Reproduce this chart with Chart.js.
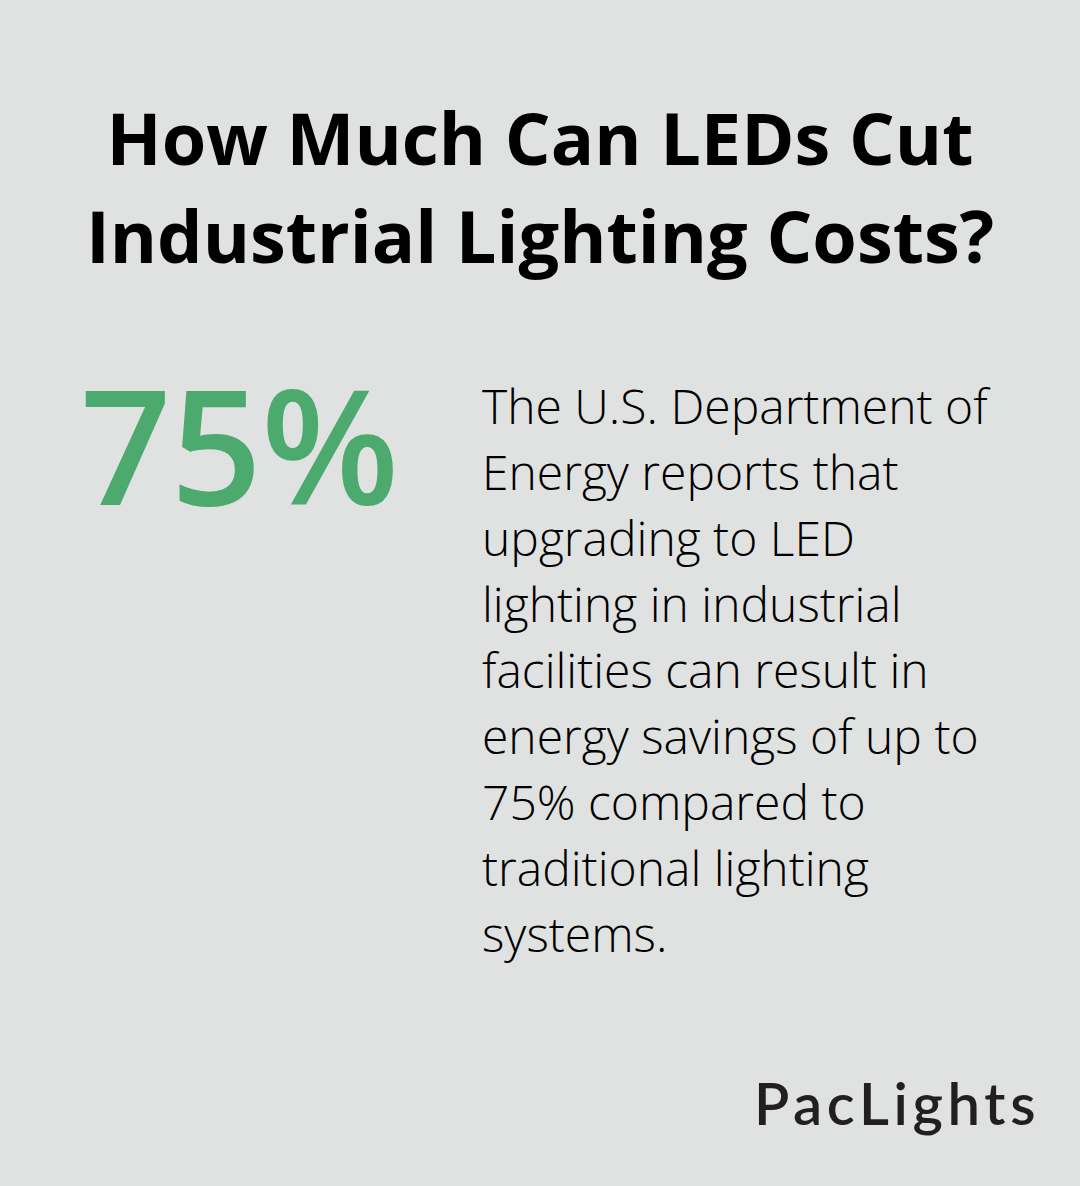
<!DOCTYPE html>
<html>
<head>
<meta charset="utf-8">
<script src="https://cdn.jsdelivr.net/npm/chart.js@4/dist/chart.umd.min.js"></script>
<style>
  html, body { margin: 0; padding: 0; }
  body { width: 1080px; height: 1186px; background: #E0E2E1; position: relative; overflow: hidden; font-family: "Open Sans", sans-serif; }
  #title { position: absolute; left: 0; top: 88px; width: 1080px; text-align: center; font-weight: 700; font-size: 72px; line-height: 98px; color: #000; margin: 0; }
  #statWrap { position: absolute; left: 70px; top: 348px; width: 350px; height: 190px; }
  #statCanvas { position: absolute; left: 0; top: 0; }
  #stat { position: absolute; left: 10px; top: 0; font-weight: 600; font-size: 160px; line-height: 190px; color: #4DAA6E; letter-spacing: -1px; }
  #body { position: absolute; left: 482px; top: 373px; width: 560px; font-weight: 300; font-size: 48px; line-height: 66px; color: #000; }
  #logo { position: absolute; left: 754px; top: 1070px; font-family: "Lato", sans-serif; font-weight: 600; font-size: 58px; line-height: 66px; color: #231F20; letter-spacing: 4.6px; }
</style>
</head>
<body>
<h1 id="title"></h1>
<div id="statWrap"><canvas id="statCanvas" width="350" height="190"></canvas><div id="stat"></div></div>
<div id="body"></div>
<div id="logo"></div>
<script>
const titleLines = ["How Much Can LEDs Cut", "Industrial Lighting Costs?"];
const statValue = [75];
const statRemainder = [25];
const statSuffix = "%";
const bodyLines = [
  "The U.S. Department of",
  "Energy reports that",
  "upgrading to LED",
  "lighting in industrial",
  "facilities can result in",
  "energy savings of up to",
  "75% compared to",
  "traditional lighting",
  "systems."
];
const brand = "PacLights";

document.getElementById('title').innerHTML = titleLines.join('<br>');
document.getElementById('body').innerHTML = bodyLines.join('<br>');
document.getElementById('stat').textContent = statValue[0] + statSuffix;
document.getElementById('logo').textContent = brand;

new Chart(document.getElementById('statCanvas'), {
  type: 'doughnut',
  data: {
    labels: ['Savings', 'Remaining'],
    datasets: [{ data: [statValue[0], statRemainder[0]], backgroundColor: ['rgba(0,0,0,0)', 'rgba(0,0,0,0)'], borderWidth: 0 }]
  },
  options: {
    responsive: false,
    animation: false,
    events: [],
    plugins: { legend: { display: false }, tooltip: { enabled: false }, title: { display: false } }
  }
});
</script>
</body>
</html>
